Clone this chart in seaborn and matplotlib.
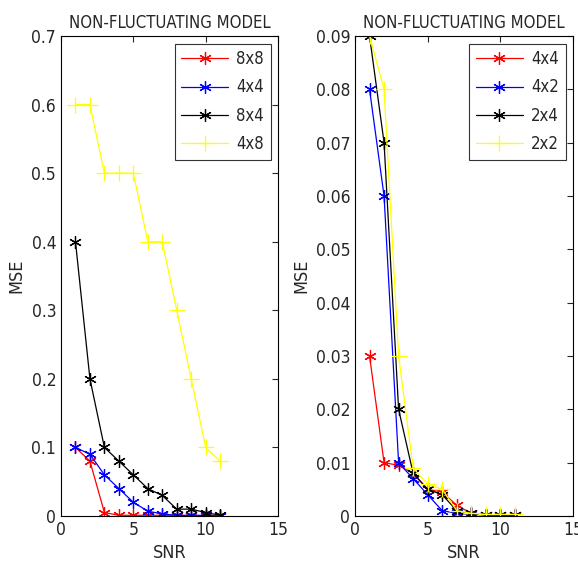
import matplotlib
matplotlib.use("Agg")
import matplotlib.pyplot as plt
import seaborn as sns
import pandas as pd

sns.set_style("white")
plt.rcParams['font.family'] = ['DejaVu Sans']
plt.rcParams['font.stretch'] = 'condensed'

snr = [1, 2, 3, 4, 5, 6, 7, 8, 9, 10, 11]

# Left panel
left_labels = ["8x8", "4x4", "8x4", "4x8"]
left_8x8 = [0.1, 0.08, 0.005, 0.001, 0.001, 0.001, 0.001, 0.0005, 0.0003, 0.0002, 0.0001]
left_4x4 = [0.1, 0.09, 0.06, 0.04, 0.02, 0.007, 0.003, 0.001, 0.001, 0.001, 0.0]
left_8x4 = [0.4, 0.2, 0.1, 0.08, 0.06, 0.04, 0.03, 0.01, 0.01, 0.005, 0.001]
left_4x8 = [0.6, 0.6, 0.5, 0.5, 0.5, 0.4, 0.4, 0.3, 0.2, 0.1, 0.08]

# Right panel
right_labels = ["4x4", "4x2", "2x4", "2x2"]
right_4x4 = [0.03, 0.01, 0.0095, 0.008, 0.005, 0.0045, 0.002, 0.0005, 0.0002, 0.0001, 0.0001]
right_4x2 = [0.08, 0.06, 0.01, 0.007, 0.004, 0.001, 0.0005, 0.0003, 0.0002, 0.0001, 0.0001]
right_2x4 = [0.09, 0.07, 0.02, 0.008, 0.005, 0.004, 0.001, 0.0005, 0.0002, 0.0002, 0.0001]
right_2x2 = [0.09, 0.08, 0.03, 0.009, 0.006, 0.005, 0.001, 0.0005, 0.0003, 0.0003, 0.0003]

colors = ["#ff0000", "#0000ff", "#000000", "#ffff00"]
asterisk = (6, 2, 0)
markers = [asterisk, asterisk, asterisk, "+"]
msizes = [9, 9, 9, 12]

fig = plt.figure(figsize=(5.78, 5.65), dpi=100)
ax1 = fig.add_axes([61/578, 1-516/565, 217/578, 480/565])
ax2 = fig.add_axes([355/578, 1-516/565, 218/578, 480/565])

def draw(ax, series, labels, ylim, yticks, yfmt):
    for vals, lab, c, m, ms in zip(series, labels, colors, markers, msizes):
        df = pd.DataFrame({"SNR": snr, "MSE": vals})
        sns.lineplot(data=df, x="SNR", y="MSE", ax=ax, color=c, marker=m,
                     markersize=ms, markeredgewidth=0.9, markeredgecolor=c,
                     linewidth=0.9, label=lab)
    ax.set_xlim(0, 15)
    ax.set_ylim(*ylim)
    ax.set_xticks([0, 5, 10, 15])
    ax.set_yticks(yticks)
    ax.set_yticklabels([yfmt(v) for v in yticks])
    ax.tick_params(direction="in", top=True, right=True, labelsize=12.5, length=4, width=0.8)
    for s in ax.spines.values():
        s.set_color("black")
        s.set_linewidth(0.8)
    ax.set_xlabel("SNR", fontsize=13)
    ax.set_ylabel("MSE", fontsize=13)
    ax.set_title("NON-FLUCTUATING MODEL", fontsize=12, pad=6)
    leg = ax.legend(loc="upper right", fontsize=12, frameon=True, fancybox=False,
                    edgecolor="black", borderpad=0.4, handlelength=2.8,
                    handletextpad=0.5, labelspacing=0.62, borderaxespad=0.45)
    leg.get_frame().set_linewidth(0.8)

def fmt_left(v):
    return "0" if v == 0 else f"{v:.1f}"

def fmt_right(v):
    return "0" if v == 0 else f"{v:.2f}"

draw(ax1, [left_8x8, left_4x4, left_8x4, left_4x8], left_labels, (0, 0.7),
     [0, 0.1, 0.2, 0.3, 0.4, 0.5, 0.6, 0.7], fmt_left)
draw(ax2, [right_4x4, right_4x2, right_2x4, right_2x2], right_labels, (0, 0.09),
     [0, 0.01, 0.02, 0.03, 0.04, 0.05, 0.06, 0.07, 0.08, 0.09], fmt_right)

fig.savefig("out.png", dpi=100)
